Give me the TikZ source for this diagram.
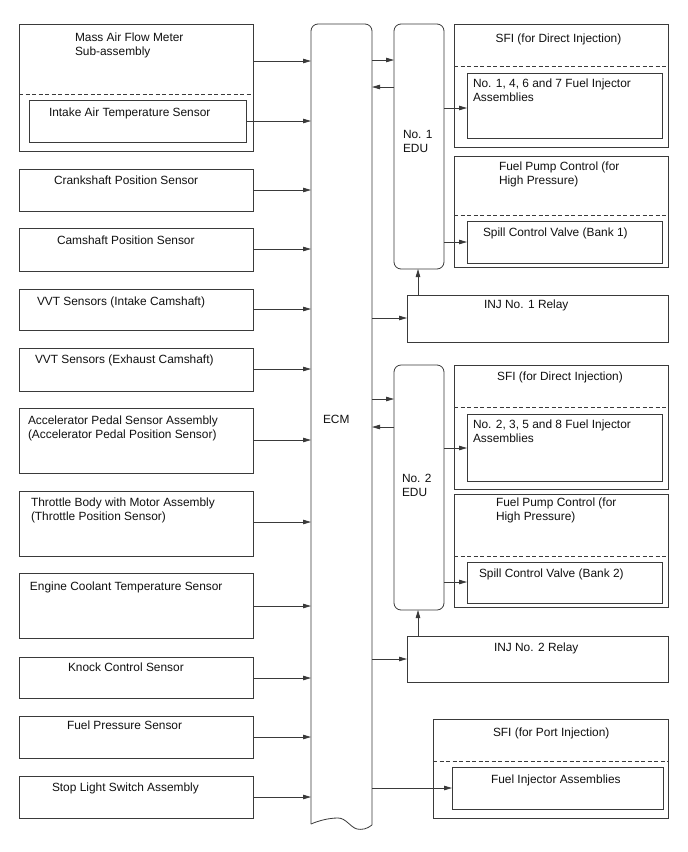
\documentclass[tikz,border=0pt]{standalone}
\usepackage{fontspec}
\setmainfont{Liberation Sans}
\usetikzlibrary{arrows.meta}
\definecolor{lc}{HTML}{3A3A3A}
\definecolor{txt}{HTML}{111111}
\newcommand\boxat[5]{\node[box, minimum width={#4-#2}, minimum height={#5-#3}] (#1) at (#2,#3) {};}
\newcommand\eduat[5]{\node[edubox, minimum width={#4-#2}, minimum height={#5-#3}] (#1) at (#2,#3) {};}
\begin{document}
\begin{tikzpicture}[x=1pt,y=-1pt,
  line width=0.8pt,
  every node/.style={inner sep=0pt, outer sep=0pt},
  box/.style={draw=lc, rectangle, anchor=north west},
  edubox/.style={draw=lc, rectangle, rounded corners=7pt, anchor=north west},
  lbl/.style={anchor=base west, align=left, font=\fontsize{11.9}{14.5}\selectfont, text=txt},
  sep/.style={draw=lc, dash pattern=on 4pt off 2.5pt},
  arr/.style={draw=lc, -{Triangle[length=8pt,width=4.5pt]}},
]
\useasboundingbox (0,0) rectangle (688,852);
\fill[white] (0,0) rectangle (688,852);

% ---------------- left sensors ----------------
\boxat{maf}{19}{24}{253}{151}
\draw[sep] (maf.west |- 0,94) -- (maf.east |- 0,94);
\boxat{iat}{29}{100}{246}{142}
\node[lbl] (tmaf) at (75,55.8) {Mass Air Flow Meter\\Sub-assembly};
\node[lbl] (tiat) at (49,116.3) {Intake Air Temperature Sensor};

\boxat{crank}{19}{169}{253}{211}
\node[lbl] (tcrank) at (54,184.3) {Crankshaft Position Sensor};
\boxat{cam}{19}{228}{253}{271}
\node[lbl] (tcam) at (57,244.3) {Camshaft Position Sensor};
\boxat{vvti}{19}{289}{253}{330}
\node[lbl] (tvvti) at (37,305.3) {VVT Sensors (Intake Camshaft)};
\boxat{vvte}{19}{348}{253}{391}
\node[lbl] (tvvte) at (35,363.3) {VVT Sensors (Exhaust Camshaft)};
\boxat{acc}{19}{408}{253}{473}
\node[lbl] (tacc) at (28,438.8) {Accelerator Pedal Sensor Assembly\\(Accelerator Pedal Position Sensor)};
\boxat{thr}{19}{491}{253}{556}
\node[lbl] (tthr) at (31,520.8) {Throttle Body with Motor Assembly\\(Throttle Position Sensor)};
\boxat{ect}{19}{573}{253}{638}
\node[lbl] (tect) at (30,590.3) {Engine Coolant Temperature Sensor};
\boxat{knock}{19}{657}{253}{698}
\node[lbl] (tknock) at (68,671.3) {Knock Control Sensor};
\boxat{fps}{19}{716}{253}{758}
\node[lbl] (tfps) at (67,729.3) {Fuel Pressure Sensor};
\boxat{stop}{19}{776}{253}{818}
\node[lbl] (tstop) at (52,791.3) {Stop Light Switch Assembly};

% ---------------- ECM ----------------
\node[anchor=north west, minimum width=61, minimum height=800] (ecm) at (311,24) {};
\draw[lc, rounded corners=7pt] (311,824) -- (311,24) -- (372,24) -- (372,825);
\draw[lc] (372,825) .. controls (367,829) and (362,830) .. (357,829)
  .. controls (350,827) and (346,818) .. (338,818)
  .. controls (328,818) and (318,821) .. (311,824);
\node[lbl] (tecm) at (323,423.3) {ECM};

% sensor arrows
\draw[arr] (maf.east |- 0,61) -- (ecm.west |- 0,61);
\draw[arr] (iat.east |- 0,121) -- (ecm.west |- 0,121);
\draw[arr] (crank.east |- 0,190) -- (ecm.west |- 0,190);
\draw[arr] (cam.east |- 0,249) -- (ecm.west |- 0,249);
\draw[arr] (vvti.east |- 0,309) -- (ecm.west |- 0,309);
\draw[arr] (vvte.east |- 0,369) -- (ecm.west |- 0,369);
\draw[arr] (acc.east |- 0,440) -- (ecm.west |- 0,440);
\draw[arr] (thr.east |- 0,522) -- (ecm.west |- 0,522);
\draw[arr] (ect.east |- 0,606) -- (ecm.west |- 0,606);
\draw[arr] (knock.east |- 0,678) -- (ecm.west |- 0,678);
\draw[arr] (fps.east |- 0,737) -- (ecm.west |- 0,737);
\draw[arr] (stop.east |- 0,797) -- (ecm.west |- 0,797);

% ---------------- EDUs ----------------
\eduat{edu1}{394}{24}{444}{269}
\node[lbl] (tedu1) at (403,152.8) {No. 1\\EDU};
\eduat{edu2}{394}{365}{444}{610}
\node[lbl] (tedu2) at (402,496.8) {No. 2\\EDU};

% ---------------- right boxes ----------------
\boxat{sfi1}{454}{24}{668}{147}
\draw[sep] (sfi1.west |- 0,66) -- (sfi1.east |- 0,66);
\boxat{inj1}{467}{73}{662}{138}
\node[lbl, anchor=base] (tsfi1) at (558.5,42.3) {SFI (for Direct Injection)};
\node[lbl] (tinj1) at (473,101.8) {No. 1, 4, 6 and 7 Fuel Injector\\Assemblies};

\boxat{fpc1}{454}{156}{668}{267}
\draw[sep] (fpc1.west |- 0,215) -- (fpc1.east |- 0,215);
\boxat{spill1}{467}{221}{662}{263}
\node[lbl] (tfpc1) at (499,184.8) {Fuel Pump Control (for\\High Pressure)};
\node[lbl] (tspill1) at (483,236.3) {Spill Control Valve (Bank 1)};

\boxat{relay1}{407}{295}{668}{342}
\node[lbl] (trelay1) at (484,308.3) {INJ No. 1 Relay};

\boxat{sfi2}{454}{365}{668}{489}
\draw[sep] (sfi2.west |- 0,407) -- (sfi2.east |- 0,407);
\boxat{inj2}{467}{414}{662}{481}
\node[lbl, anchor=base] (tsfi2) at (560,380.3) {SFI (for Direct Injection)};
\node[lbl] (tinj2) at (473,442.8) {No. 2, 3, 5 and 8 Fuel Injector\\Assemblies};

\boxat{fpc2}{454}{494}{668}{607}
\draw[sep] (fpc2.west |- 0,556) -- (fpc2.east |- 0,556);
\boxat{spill2}{467}{562}{662}{603}
\node[lbl] (tfpc2) at (496,520.8) {Fuel Pump Control (for\\High Pressure)};
\node[lbl] (tspill2) at (479,577.3) {Spill Control Valve (Bank 2)};

\boxat{relay2}{407}{636}{668}{682}
\node[lbl] (trelay2) at (494,651.3) {INJ No. 2 Relay};

\boxat{port}{433}{719}{668}{818}
\draw[sep] (port.west |- 0,761) -- (port.east |- 0,761);
\boxat{fia}{452}{767}{663}{809}
\node[lbl] (tport) at (493,736.3) {SFI (for Port Injection)};
\node[lbl] (tfia) at (491,783.3) {Fuel Injector Assemblies};

% ---------------- right-side connectors ----------------
\draw[arr] (ecm.east |- 0,60) -- (edu1.west |- 0,60);
\draw[arr] (edu1.west |- 0,87) -- (ecm.east |- 0,87);
\draw[arr] (ecm.east |- 0,399) -- (edu2.west |- 0,399);
\draw[arr] (edu2.west |- 0,427) -- (ecm.east |- 0,427);
\draw[arr] (ecm.east |- 0,318) -- (relay1.west |- 0,318);
\draw[arr] (ecm.east |- 0,659) -- (relay2.west |- 0,659);
\draw[arr] (ecm.east |- 0,788) -- (fia.west |- 0,788);
\draw[arr] (edu1.east |- 0,108) -- (inj1.west |- 0,108);
\draw[arr] (edu1.east |- 0,242) -- (spill1.west |- 0,242);
\draw[arr] (edu2.east |- 0,448) -- (inj2.west |- 0,448);
\draw[arr] (edu2.east |- 0,582) -- (spill2.west |- 0,582);
\draw[arr] (relay1.north -| 418,0) -- (edu1.south -| 418,0);
\draw[arr] (relay2.north -| 418,0) -- (edu2.south -| 418,0);
\end{tikzpicture}
\end{document}
